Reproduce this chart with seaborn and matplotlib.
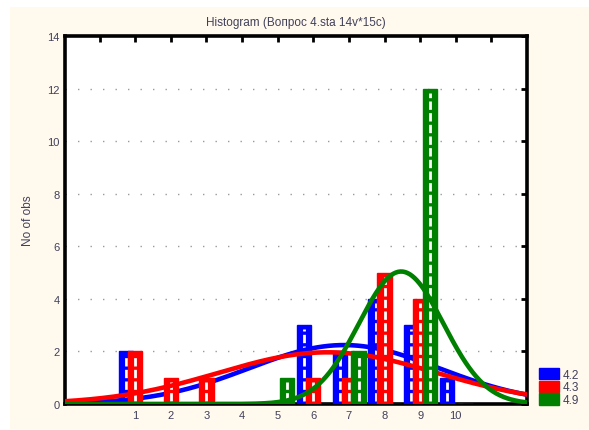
import numpy as np
import pandas as pd
import matplotlib
matplotlib.use("Agg")
import matplotlib.pyplot as plt
from matplotlib.patches import Patch, Rectangle
import seaborn as sns

# ---- data ----
categories = [1, 2, 3, 4, 5, 6, 7, 8, 9, 10]
series_names = ["4.2", "4.3", "4.9"]
counts_42 = [2, 0, 0, 0, 0, 3, 2, 4, 3, 1]
counts_43 = [2, 1, 1, 0, 0, 1, 1, 5, 4, 0]
counts_49 = [0, 0, 0, 0, 1, 0, 2, 0, 12, 0]
colors = ["#0000FF", "#FF0000", "#008000"]
title = "Histogram (Вопрос 4.sta 14v*15c)"
ylabel = "No of obs"

sns.set_style("white")
plt.rcParams["font.family"] = ["Liberation Sans", "DejaVu Sans"]
txt_col = "#40405a"

fig = plt.figure(figsize=(5.89, 4.31), dpi=100)
fig.patch.set_facecolor("white")
fig.patches.append(Rectangle((10 / 589, 1 / 431), 1 - 10 / 589, 1 - 9 / 431,
                             transform=fig.transFigure, facecolor="#FFF9EE",
                             edgecolor="none", zorder=-10))
ax = fig.add_axes([65 / 589, 26 / 431, 462 / 589, 368 / 431])
ax.set_facecolor("white")

all_counts = [counts_42, counts_43, counts_49]
offsets = [-0.25, 0.0, 0.27]
width = 0.4
xs = np.linspace(-1, 12, 400)
for i, (name, cnt, col, off) in enumerate(zip(series_names, all_counts, colors, offsets)):
    cnt = np.array(cnt)
    cat = np.array(categories, dtype=float)
    pos = cat + off
    z = 3 + i * 3
    ax.bar(pos, cnt, width=width, color=col, edgecolor=col, linewidth=1, zorder=z)
    m = cnt > 0
    ax.vlines(pos[m], 0.1, cnt[m] - 0.15, colors="white", linewidth=2.0,
              linestyles=(0, (3.0, 1.2)), zorder=z + 0.5)
    n = cnt.sum()
    mean = (cat * cnt).sum() / n
    sd = np.sqrt(((cat - mean) ** 2 * cnt).sum() / (n - 1))
    ys = n * np.exp(-0.5 * ((xs - mean) / sd) ** 2) / (sd * np.sqrt(2 * np.pi))
    df = pd.DataFrame({"x": xs, "y": ys})
    sns.lineplot(data=df, x="x", y="y", ax=ax, color=col, linewidth=3.3, zorder=z + 1)

ax.set_xlim(-0.97, 12.0)
ax.set_ylim(0, 14)
ax.set_xticks(range(0, 12))
ax.set_xticklabels([""] + [str(c) for c in categories] + [""])
ax.set_yticks(range(0, 15, 2))
ax.set_xlabel("")
ax.set_ylabel(ylabel, fontsize=8.5, color=txt_col, labelpad=9)
ax.set_title(title, fontsize=8.5, color=txt_col, pad=8)

for y in range(2, 14, 2):
    ax.axhline(y, color="#9a9a9a", linewidth=1.0, linestyle=(0, (1, 8)), zorder=1)

for s in ax.spines.values():
    s.set_visible(True)
    s.set_linewidth(2.6)
    s.set_color("black")
ax.tick_params(direction="in", length=4, width=2, top=True, right=True,
               labelsize=8, labelcolor=txt_col, color="black", pad=4)

handles = [Patch(facecolor=c, edgecolor=c, label=l) for c, l in zip(colors, series_names)]
fig.legend(handles=handles, loc="lower left", bbox_to_anchor=(533 / 589, 18 / 431),
           frameon=False, fontsize=8.5, handlelength=1.7, handleheight=1.1,
           labelspacing=0.0, handletextpad=0.3, borderpad=0, labelcolor=txt_col)

fig.savefig("out.png", dpi=100, facecolor=fig.get_facecolor())
